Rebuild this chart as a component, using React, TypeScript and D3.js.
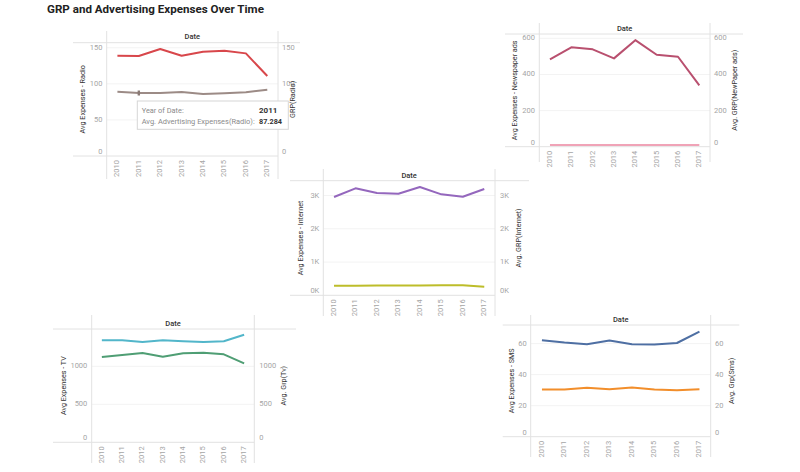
import React from "react";
import * as d3 from "d3";

const years = ["2010", "2011", "2012", "2013", "2014", "2015", "2016", "2017"];

const radioGrp = [138.9, 138.5, 148.2, 138.9, 144.5, 145.8, 142.2, 110.8];
const radioExpenses = [89.1, 87.284, 87.3, 88.7, 85.9, 86.8, 88.2, 91.9];
const radioTicks = [0, 50, 100, 150];

const newspaperExpenses = [484, 550, 539, 489, 590, 509, 498, 340];
const newspaperGrp = [9.2, 9.4, 9.3, 9.1, 9.5, 9.3, 9.2, 9.0];
const newspaperTicks = [0, 200, 400, 600];

const internetExpenses = [2956, 3218, 3077, 3056, 3256, 3037, 2966, 3197];
const internetGrp = [290, 288, 295, 292, 293, 305, 300, 255];
const internetTicks = [0, 1000, 2000, 3000];

const tvExpenses = [1342, 1342, 1320, 1342, 1329, 1320, 1329, 1416];
const tvGrp = [1122, 1149, 1175, 1127, 1171, 1180, 1158, 1039];
const tvTicks = [0, 500, 1000];

const smsExpenses = [62.2, 60.7, 59.6, 62.0, 59.6, 59.4, 60.4, 67.8];
const smsGrp = [30.4, 30.4, 31.5, 30.6, 31.7, 30.4, 29.9, 30.6];
const smsTicks = [0, 20, 40, 60];

const FONT = "Roboto, 'Open Sans', sans-serif";

type Series = { values: number[]; color: string };
type PanelProps = {
  leftV: number;
  rightV: number;
  headerTop: number;
  dateY: number;
  paneTop: number;
  baseline: number;
  bottom: number;
  lineX1: number;
  lineX2: number;
  leftLabelX: number;
  leftTitleX: number;
  rightLabelX: number;
  rightTitleX: number;
  yMax: number;
  ticks: number[];
  hideRight?: number[];
  fmt: (v: number) => string;
  leftTitle: string;
  rightTitle: string;
  series: Series[];
  children?: (x: d3.ScalePoint<string>, y: d3.ScaleLinear<number, number>) => React.ReactNode;
};

function Panel(p: PanelProps) {
  const x = d3.scalePoint<string>().domain(years).range([p.leftV, p.rightV]).padding(0.5);
  const y = d3.scaleLinear().domain([0, p.yMax]).range([p.baseline, p.paneTop]);
  const line = d3
    .line<number>()
    .x((_, i) => x(years[i]) as number)
    .y((v) => y(v))
    .curve(d3.curveLinear);
  const midY = (p.paneTop + p.baseline) / 2;
  const labelY = (t: number) => (t === 0 ? y(t) - 4 : y(t));
  return (
    <g>
      {p.ticks
        .filter((t) => t !== 0)
        .map((t) => (
          <line key={"g" + t} x1={p.leftV} x2={p.rightV} y1={y(t)} y2={y(t)} stroke="#f3f3f3" strokeWidth={1} />
        ))}
      <line x1={p.lineX1} x2={p.lineX2} y1={p.paneTop} y2={p.paneTop} stroke="#e2e2e2" strokeWidth={1} />
      <line x1={p.lineX1} x2={p.rightV} y1={p.baseline} y2={p.baseline} stroke="#e2e2e2" strokeWidth={1} />
      <line x1={p.leftV} x2={p.leftV} y1={p.headerTop} y2={p.bottom} stroke="#e2e2e2" strokeWidth={1} />
      <line x1={p.rightV} x2={p.rightV} y1={p.headerTop} y2={p.bottom} stroke="#e2e2e2" strokeWidth={1} />
      <text
        x={(p.leftV + p.rightV) / 2}
        y={p.dateY}
        textAnchor="middle"
        dominantBaseline="middle"
        fontSize={7.5}
        fontWeight={500}
        fill="#333"
        fontFamily={FONT}
      >
        Date
      </text>
      {p.ticks.map((t) => (
        <g key={"t" + t}>
          <text
            x={p.leftLabelX}
            y={labelY(t)}
            textAnchor="end"
            dominantBaseline="middle"
            fontSize={7.5}
            fill="#a5a5a5"
            fontFamily={FONT}
          >
            {p.fmt(t)}
          </text>
          {p.hideRight && p.hideRight.includes(t) ? null : (
            <text
              x={p.rightLabelX}
              y={labelY(t)}
              textAnchor="start"
              dominantBaseline="middle"
              fontSize={7.5}
              fill="#a5a5a5"
              fontFamily={FONT}
            >
              {p.fmt(t)}
            </text>
          )}
        </g>
      ))}
      <text
        transform={`translate(${p.leftTitleX},${midY}) rotate(-90)`}
        textAnchor="middle"
        dominantBaseline="middle"
        fontSize={7.2}
        fill="#333"
        fontFamily={FONT}
      >
        {p.leftTitle}
      </text>
      <text
        transform={`translate(${p.rightTitleX},${midY}) rotate(-90)`}
        textAnchor="middle"
        dominantBaseline="middle"
        fontSize={7.2}
        fill="#333"
        fontFamily={FONT}
      >
        {p.rightTitle}
      </text>
      {years.map((yr) => (
        <text
          key={yr}
          transform={`translate(${x(yr)},${p.baseline + 4}) rotate(-90)`}
          textAnchor="end"
          dominantBaseline="middle"
          fontSize={7.5}
          fill="#a5a5a5"
          fontFamily={FONT}
        >
          {yr}
        </text>
      ))}
      {p.series.map((s, i) => (
        <path key={i} d={line(s.values) || ""} fill="none" stroke={s.color} strokeWidth={2} strokeLinejoin="round" />
      ))}
      {p.children ? p.children(x, y) : null}
    </g>
  );
}

export default function App() {
  const fmtK = (v: number) => `${v / 1000}K`;
  const fmtN = (v: number) => `${v}`;
  return (
    <svg
      width={800}
      height={472}
      style={{ position: "absolute", left: 0, top: 0, background: "#fff" }}
      fontFamily={FONT}
    >
      <rect width={800} height={472} fill="#fff" />
      <text x={47} y={13} fontSize={11.6} fontWeight={700} fill="#222" fontFamily={FONT}>
        GRP and Advertising Expenses Over Time
      </text>

      <Panel
        leftV={106.7}
        rightV={278}
        headerTop={31}
        dateY={37}
        paneTop={42.7}
        baseline={156}
        bottom={179}
        lineX1={73}
        lineX2={300}
        leftLabelX={102.5}
        leftTitleX={83}
        rightLabelX={282}
        rightTitleX={293}
        yMax={157}
        ticks={radioTicks}
        hideRight={[50]}
        fmt={fmtN}
        leftTitle="Avg Expenses - Radio"
        rightTitle="GRP(Radio)"
        series={[
          { values: radioGrp, color: "#d8474b" },
          { values: radioExpenses, color: "#9c8b86" },
        ]}
      >
        {(x, y) => (
          <g>
            <rect
              x={(x(years[1]) as number) - 1.2}
              y={y(radioExpenses[1]) - 2.5}
              width={2.4}
              height={5}
              fill="#8a7a75"
            />
            <rect x={137.3} y={101} width={151} height={28.3} fill="#fff" stroke="#d6d6d6" strokeWidth={1} />
            <text x={141.7} y={113} fontSize={7.2} fill="#8a8a8a" fontFamily={FONT} textLength={42} lengthAdjust="spacingAndGlyphs">
              Year of Date:
            </text>
            <text x={259} y={113} fontSize={8} fontWeight={700} fill="#333" fontFamily={FONT}>
              {years[1]}
            </text>
            <text x={141.7} y={123.5} fontSize={7} fill="#8a8a8a" fontFamily={FONT} textLength={113} lengthAdjust="spacingAndGlyphs">
              Avg. Advertising Expenses(Radio):
            </text>
            <text x={259} y={123.5} fontSize={8} fontWeight={700} fill="#333" fontFamily={FONT} textLength={23} lengthAdjust="spacingAndGlyphs">
              {d3.format(".3f")(radioExpenses[1])}
            </text>
          </g>
        )}
      </Panel>

      <Panel
        leftV={539.3}
        rightV={710}
        headerTop={23}
        dateY={29}
        paneTop={34}
        baseline={146.7}
        bottom={162}
        lineX1={505}
        lineX2={743}
        leftLabelX={535}
        leftTitleX={515}
        rightLabelX={714}
        rightTitleX={735}
        yMax={624}
        ticks={newspaperTicks}
        fmt={fmtN}
        leftTitle="Avg Expenses - Newspaper ads"
        rightTitle="Avg. GRP(NewPaper ads)"
        series={[
          { values: newspaperGrp, color: "#f0a3b7" },
          { values: newspaperExpenses, color: "#b9506f" },
        ]}
      />

      <Panel
        leftV={323.3}
        rightV={495}
        headerTop={169}
        dateY={175.7}
        paneTop={180.7}
        baseline={295.3}
        bottom={316}
        lineX1={290}
        lineX2={529}
        leftLabelX={319.3}
        leftTitleX={300.7}
        rightLabelX={500}
        rightTitleX={519}
        yMax={3447}
        ticks={internetTicks}
        fmt={fmtK}
        leftTitle="Avg Expenses - Internet"
        rightTitle="Avg. GRP(Internet)"
        series={[
          { values: internetGrp, color: "#bdbd2a" },
          { values: internetExpenses, color: "#9467bd" },
        ]}
      />

      <Panel
        leftV={91.7}
        rightV={254.3}
        headerTop={315}
        dateY={324}
        paneTop={329}
        baseline={442.3}
        bottom={463}
        lineX1={53}
        lineX2={296}
        leftLabelX={87.3}
        leftTitleX={64}
        rightLabelX={259.3}
        rightTitleX={284}
        yMax={1491}
        ticks={tvTicks}
        fmt={fmtN}
        leftTitle="Avg Expenses - TV"
        rightTitle="Avg. Grp(Tv)"
        series={[
          { values: tvGrp, color: "#4f9e74" },
          { values: tvExpenses, color: "#52b6ca" },
        ]}
      />

      <Panel
        leftV={530.7}
        rightV={710.7}
        headerTop={315}
        dateY={320}
        paneTop={325}
        baseline={436.7}
        bottom={457}
        lineX1={502.7}
        lineX2={739.3}
        leftLabelX={526.7}
        leftTitleX={511.7}
        rightLabelX={715}
        rightTitleX={731.7}
        yMax={72}
        ticks={smsTicks}
        fmt={fmtN}
        leftTitle="Avg Expenses - SMS"
        rightTitle="Avg. Grp(Sms)"
        series={[
          { values: smsGrp, color: "#f28e2b" },
          { values: smsExpenses, color: "#4e6fa3" },
        ]}
      />
    </svg>
  );
}
